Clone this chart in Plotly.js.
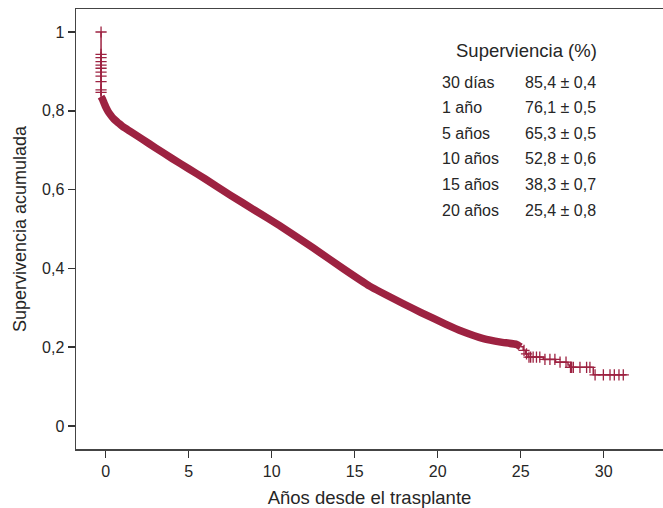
<!DOCTYPE html>
<html>
<head>
<meta charset="utf-8">
<script src="https://cdn.plot.ly/plotly-3.0.1.min.js"></script>
<style>html,body{margin:0;padding:0;background:#fff;}#chart{width:663px;height:508px;}</style>
</head>
<body>
<div id="chart"></div>
<script>
// ---- data ----
// initial drop (thin line) and censor marks on it
const startT = [-0.28, -0.28];
const startY = [1.0, 0.836];
const startCensT = [-0.28, -0.28, -0.28, -0.28, -0.28, -0.28, -0.28, -0.28, -0.28, -0.28, -0.28];
const startCensY = [1.0, 0.943, 0.935, 0.925, 0.916, 0.908, 0.898, 0.888, 0.874, 0.853, 0.847];

// dense part of the survival curve (censor marks merged into a band)
const bandT = [-0.28, -0.2, -0.1, 0.0, 0.15, 0.3, 0.45, 0.6, 0.8, 1.0, 1.25, 1.5, 2.2, 3.0, 4.0, 5.0, 6.0, 7.5, 9.0, 10.5, 12.5, 14.35, 15.9, 17.9, 19.0, 20.5, 21.5, 22.75, 23.8, 24.76, 25.0];
const bandY = [0.836, 0.830, 0.820, 0.810, 0.798, 0.789, 0.781, 0.775, 0.768, 0.761, 0.754, 0.747, 0.728, 0.706, 0.679, 0.653, 0.627, 0.586, 0.547, 0.508, 0.452, 0.398, 0.355, 0.311, 0.288, 0.258, 0.240, 0.222, 0.213, 0.207, 0.201];

// tail step function
const tailT = [25.0, 25.15, 25.3, 25.45, 26.36, 27.1, 27.85, 27.95, 29.37, 31.38];
const tailY = [0.201, 0.192, 0.183, 0.175, 0.169, 0.162, 0.155, 0.149, 0.130, 0.130];

// tail censor marks
const censT = [25.2, 25.35, 25.5, 25.6, 25.75, 25.95, 26.15, 26.46, 26.76, 27.06, 27.37, 27.73, 28.0, 28.07, 28.17, 28.57, 28.97, 29.17, 29.48, 29.98, 30.38, 30.64, 30.92, 31.18];
const censY = [0.192, 0.183, 0.175, 0.175, 0.175, 0.175, 0.175, 0.169, 0.169, 0.169, 0.162, 0.162, 0.149, 0.149, 0.149, 0.149, 0.149, 0.149, 0.130, 0.130, 0.130, 0.130, 0.130, 0.130];

// table
const tableTitle = "Superviencia (%)";
const tableLabels = ["30 días", "1 año", "5 años", "10 años", "15 años", "20 años"];
const tableValues = ["85,4 \u00b1 0,4", "76,1 \u00b1 0,5", "65,3 \u00b1 0,5", "52,8 \u00b1 0,6", "38,3 \u00b1 0,7", "25,4 \u00b1 0,8"];

// axes
const xTickVals = [0, 5, 10, 15, 20, 25, 30];
const xTickText = ["0", "5", "10", "15", "20", "25", "30"];
const yTickVals = [0, 0.2, 0.4, 0.6, 0.8, 1];
const yTickText = ["0", "0,2", "0,4", "0,6", "0,8", "1"];
const xTitle = "Años desde el trasplante";
const yTitle = "Supervivencia acumulada";

// ---- styling ----
const C = "#9d2241";
const W = 663, H = 508;
const M = {l: 76, r: 0, t: 9, b: 59};
const pw = W - M.l - M.r, ph = H - M.t - M.b;
const px = x => (x - M.l) / pw;
const py = y => 1 - (y - M.t) / ph;
const FONT = "Liberation Sans, Arial, sans-serif";
const TXT = "#262626";

const traces = [
  {x: bandT, y: bandY, mode: "lines", line: {color: C, width: 7.5, shape: "spline", smoothing: 0.3}, hoverinfo: "skip"},
  {x: startT, y: startY, mode: "lines", line: {color: C, width: 1.5}, hoverinfo: "skip"},
  {x: startCensT, y: startCensY, mode: "markers",
   marker: {symbol: "cross-thin", size: 8, line: {color: C, width: 1.3}}, hoverinfo: "skip"},
  {x: tailT, y: tailY, mode: "lines", line: {color: C, width: 1.5, shape: "hv"}, hoverinfo: "skip"},
  {x: censT, y: censY, mode: "markers",
   marker: {symbol: "cross-thin", size: 8, line: {color: C, width: 1.3}}, hoverinfo: "skip"}
];

const ann = [];
ann.push({text: tableTitle, xref: "paper", yref: "paper", x: px(526), y: py(50.5),
  xanchor: "center", yanchor: "middle", showarrow: false, font: {size: 18.5, color: TXT, family: FONT}});
const rowY0 = 82, rowDY = 25.66;
tableLabels.forEach((t, i) => {
  ann.push({text: t, xref: "paper", yref: "paper", x: px(439.5), y: py(rowY0 + i * rowDY),
    xanchor: "left", yanchor: "middle", showarrow: false, font: {size: 16, color: TXT, family: FONT}});
  ann.push({text: tableValues[i], xref: "paper", yref: "paper", x: px(523.3), y: py(rowY0 + i * rowDY),
    xanchor: "left", yanchor: "middle", showarrow: false, font: {size: 16, color: TXT, family: FONT}});
});

const layout = {
  width: W, height: H,
  margin: M,
  paper_bgcolor: "#fff", plot_bgcolor: "#fff",
  showlegend: false,
  font: {family: FONT, color: TXT},
  xaxis: {
    range: [(M.l - 105.7) / 16.6, (W - 105.7) / 16.6],
    tickvals: xTickVals, ticktext: xTickText,
    ticks: "outside", ticklen: 7, tickwidth: 1.5, tickcolor: "#333",
    showline: true, linecolor: "#444", linewidth: 1.5, mirror: true,
    showgrid: false, zeroline: false,
    tickfont: {size: 16, color: TXT, family: FONT},
    title: {text: xTitle, font: {size: 18.5, color: TXT, family: FONT}, standoff: 13}
  },
  yaxis: {
    range: [(426 - (H - M.b)) / 394, (426 - M.t) / 394],
    tickvals: yTickVals, ticktext: yTickText,
    ticks: "outside", ticklen: 7, tickwidth: 1.5, tickcolor: "#333",
    showline: true, linecolor: "#444", linewidth: 1.5,
    showgrid: false, zeroline: false,
    tickfont: {size: 16, color: TXT, family: FONT},
    title: {text: yTitle, font: {size: 18, color: TXT, family: FONT}, standoff: 10}
  },
  annotations: ann
};

Plotly.newPlot("chart", traces, layout, {displayModeBar: false, staticPlot: true});
</script>
</body>
</html>
